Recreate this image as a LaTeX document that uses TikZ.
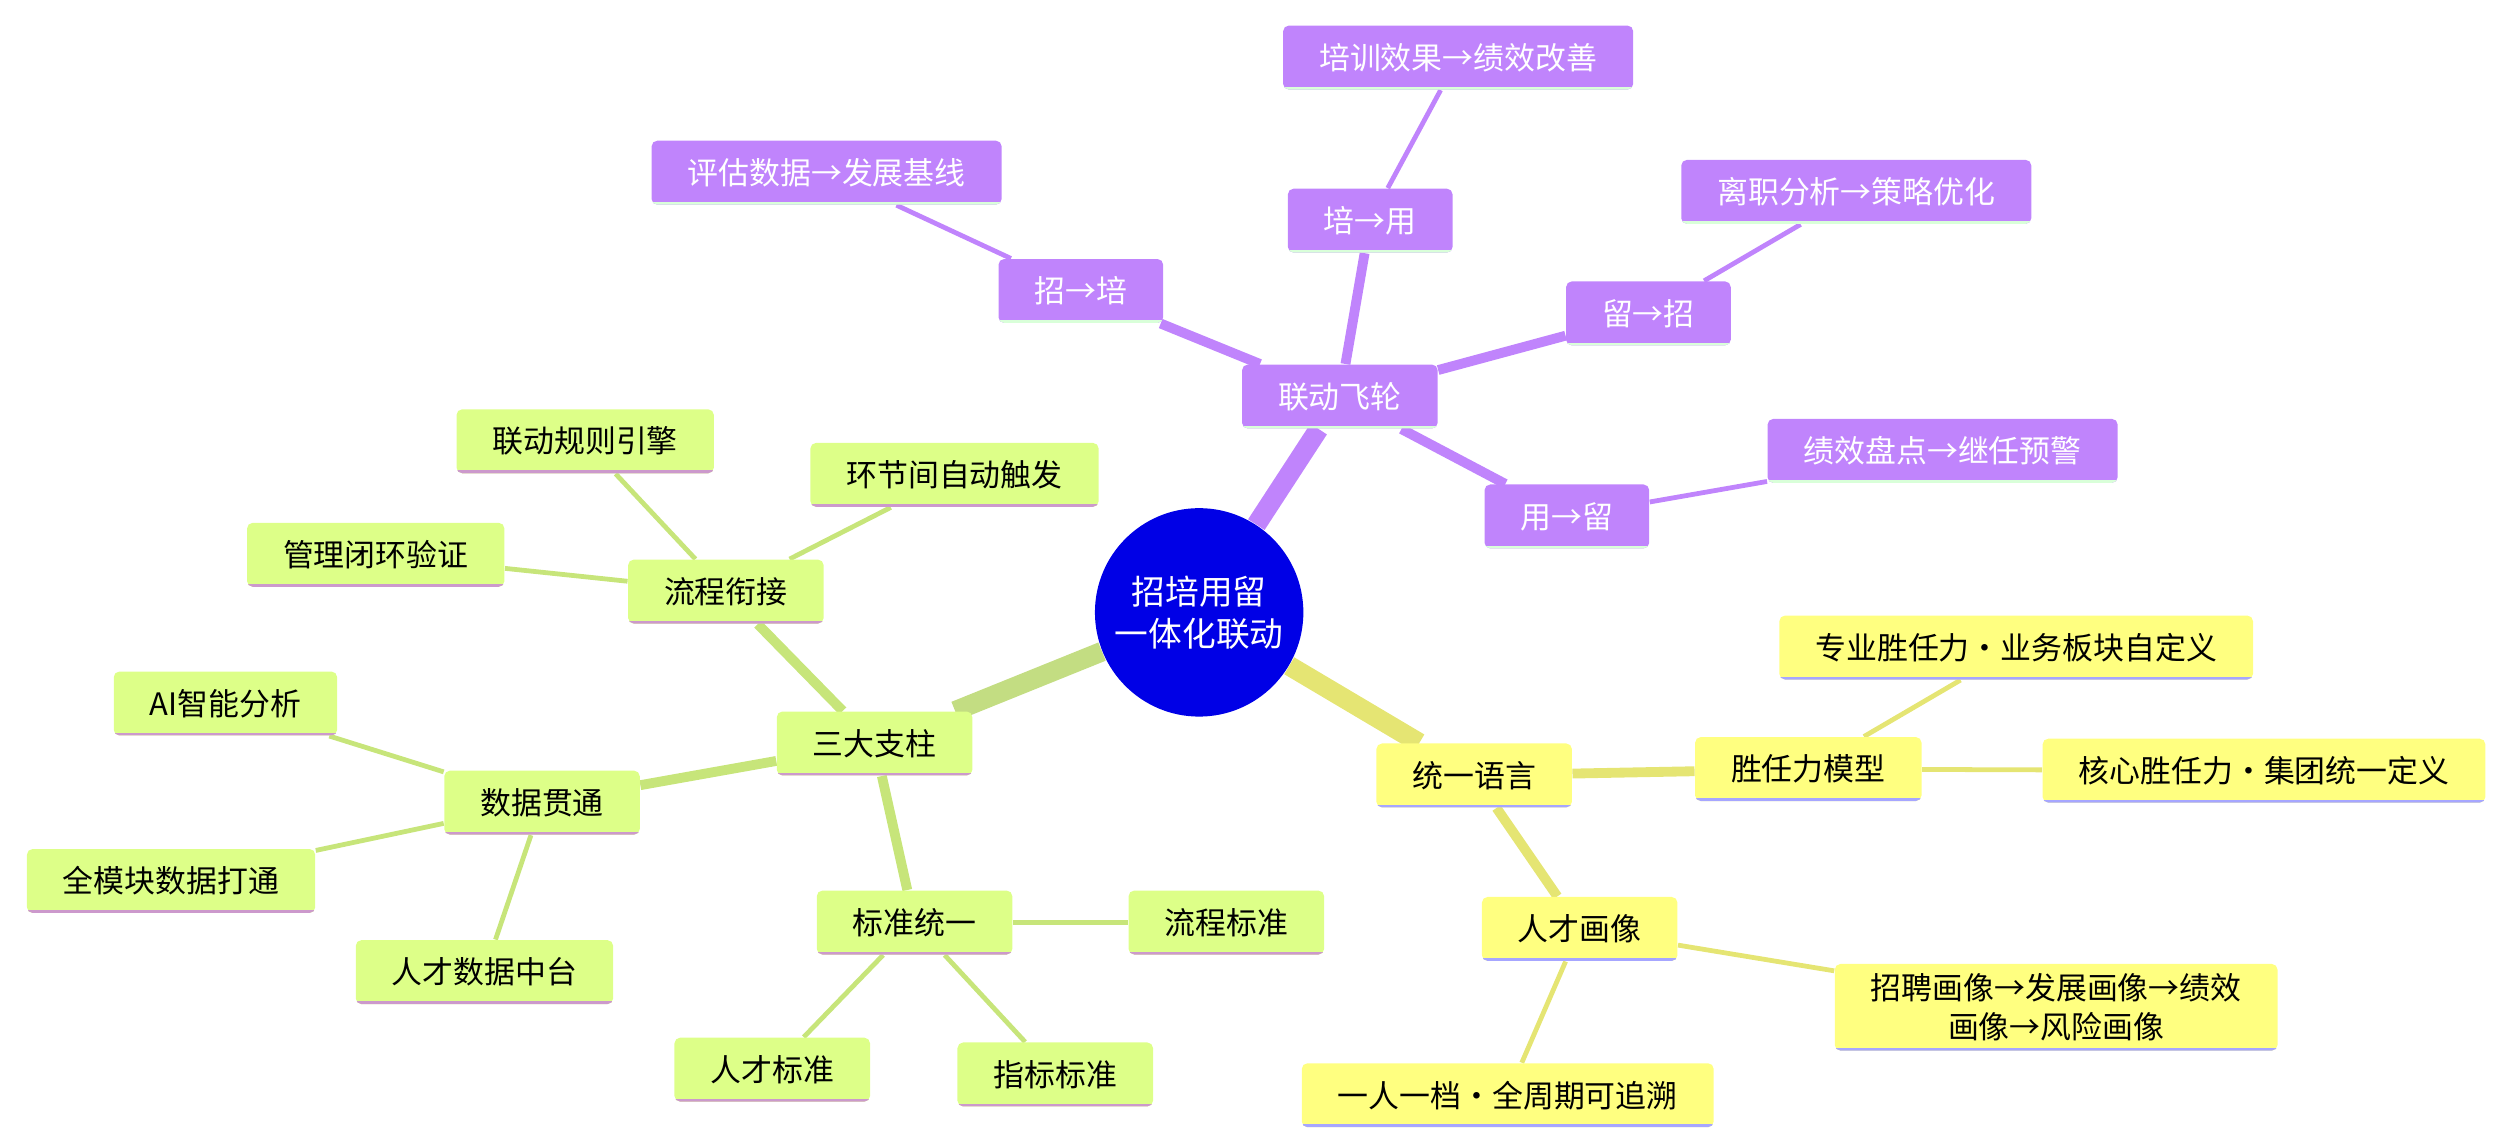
\documentclass[tikz,border=0pt]{standalone}
\usepackage{fontspec}
\setmainfont{Noto Sans CJK SC}
\usetikzlibrary{backgrounds}
\definecolor{purp}{HTML}{C084FC}
\definecolor{grn}{HTML}{DDFF88}
\definecolor{yel}{HTML}{FFFF80}
\definecolor{hub}{HTML}{0000E6}
\tikzset{
  box/.style={rounded corners=2pt, minimum height=0.8cm, inner xsep=0.45cm, font=\fontsize{11}{14}\selectfont},
  pbox/.style={box, fill=purp, text=white, path picture={\draw[line width=2pt, green!15] (path picture bounding box.south west) -- (path picture bounding box.south east);}},
  gbox/.style={box, fill=grn, path picture={\draw[line width=2pt, violet!40] (path picture bounding box.south west) -- (path picture bounding box.south east);}},
  ybox/.style={box, fill=yel, path picture={\draw[line width=2pt, blue!35] (path picture bounding box.south west) -- (path picture bounding box.south east);}},
  big/.style={line width=7pt},
  mid/.style={line width=3.5pt},
  thin/.style={line width=1.7pt}
}
\begin{document}
\begin{tikzpicture}[x=0.02cm, y=-0.02cm]
  \useasboundingbox (0,0) rectangle (1568,717);
  % hub
  \node[circle, fill=hub, text=white, minimum size=2.5cm, align=center, font=\fontsize{12}{15}\selectfont] (hub) at (750,383) {招培用留\\一体化联动};

  % purple branch
  \node[pbox] (fly) at (838,248) {联动飞轮};
  \node[pbox] (zp) at (676,182) {招→培};
  \node[pbox] (py) at (857,138) {培→用};
  \node[pbox] (lz) at (1031,196) {留→招};
  \node[pbox] (yl) at (980,323) {用→留};
  \node[pbox] (zp1) at (517,108) {评估数据→发展基线};
  \node[pbox] (py1) at (912,36) {培训效果→绩效改善};
  \node[pbox] (lz1) at (1161,120) {离职分析→策略优化};
  \node[pbox] (yl1) at (1215,282) {绩效盘点→继任预警};

  % green branch
  \node[gbox] (pil) at (547,465) {三大支柱};
  \node[gbox] (lc) at (454,370) {流程衔接};
  \node[gbox] (sj) at (339,502) {数据贯通};
  \node[gbox] (bz) at (572,577) {标准统一};
  \node[gbox] (lc1) at (366,276) {联动规则引擎};
  \node[gbox] (lc2) at (597,297) {环节间自动触发};
  \node[gbox] (lc3) at (235,347) {管理闭环验证};
  \node[gbox] (sj1) at (141,440) {AI智能分析};
  \node[gbox] (sj2) at (107,551) {全模块数据打通};
  \node[gbox] (sj3) at (303,608) {人才数据中台};
  \node[gbox] (bz1) at (767,577) {流程标准};
  \node[gbox] (bz2) at (483,669) {人才标准};
  \node[gbox] (bz3) at (660,672) {指标标准};

  % yellow branch
  \node[ybox] (yy) at (922,485) {统一语言};
  \node[ybox] (sr) at (1131,481) {胜任力模型};
  \node[ybox] (hx) at (988,581) {人才画像};
  \node[ybox] (sr1) at (1261,405) {专业胜任力·业务板块自定义};
  \node[ybox] (sr2) at (1416,482) {核心胜任力·集团统一定义};
  \node[ybox, align=center] (hx1) at (1286,630) {招聘画像→发展画像→绩效\\画像→风险画像};
  \node[ybox] (hx2) at (943,685) {一人一档·全周期可追溯};

  \begin{scope}[on background layer]
    \draw[big, purp] (hub) -- (fly);
    \draw[big, grn!85!black!90] (hub) -- (pil);
    \draw[big, yel!90!black] (hub) -- (yy);
    \foreach \a/\b in {fly/zp, fly/py, fly/lz, fly/yl}
      \draw[mid, purp] (\a) -- (\b);
    \foreach \a/\b in {zp/zp1, py/py1, lz/lz1, yl/yl1}
      \draw[thin, purp] (\a) -- (\b);
    \foreach \a/\b in {pil/lc, pil/sj, pil/bz}
      \draw[mid, grn!90!black] (\a) -- (\b);
    \foreach \a/\b in {lc/lc1, lc/lc2, lc/lc3, sj/sj1, sj/sj2, sj/sj3, bz/bz1, bz/bz2, bz/bz3}
      \draw[thin, grn!90!black] (\a) -- (\b);
    \foreach \a/\b in {yy/sr, yy/hx}
      \draw[mid, yel!90!black] (\a) -- (\b);
    \foreach \a/\b in {sr/sr1, sr/sr2, hx/hx1, hx/hx2}
      \draw[thin, yel!90!black] (\a) -- (\b);
  \end{scope}
\end{tikzpicture}
\end{document}
